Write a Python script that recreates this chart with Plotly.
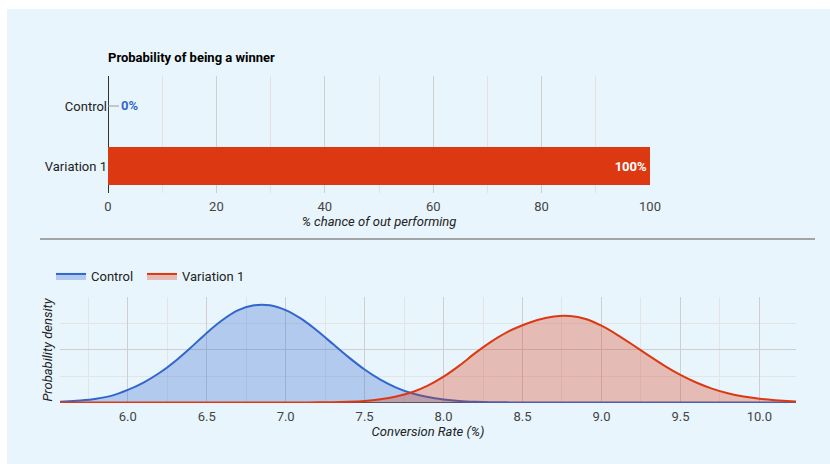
import plotly.graph_objects as go

W, H = 830, 464

# ---------------- data ----------------
variants = ["Control", "Variation 1"]
win_prob = [0, 100]
top_ticks = [0, 20, 40, 60, 80, 100]
top_minor = [10, 30, 50, 70, 90]

rate = [5.5, 5.6, 5.7, 5.8, 5.9, 6.0, 6.1, 6.2, 6.3, 6.4, 6.5, 6.6, 6.7, 6.8, 6.9,
        7.0, 7.1, 7.2, 7.3, 7.4, 7.5, 7.6, 7.7, 7.8, 7.9, 8.0, 8.1, 8.2, 8.3, 8.4,
        8.5, 8.6, 8.7, 8.8, 8.9, 9.0, 9.1, 9.2, 9.3, 9.4, 9.5, 9.6, 9.7, 9.8, 9.9,
        10.0, 10.1, 10.2, 10.3]
control_density = [0.005, 0.010, 0.020, 0.037, 0.066, 0.120, 0.190, 0.280, 0.392, 0.522,
                   0.660, 0.782, 0.875, 0.922, 0.922, 0.876, 0.792, 0.680, 0.554, 0.428,
                   0.313, 0.217, 0.142, 0.088, 0.052, 0.030, 0.016, 0.008, 0.004, 0.002,
                   0.001, 0.0, 0.0, 0.0, 0.0, 0.0, 0.0, 0.0, 0.0, 0.0,
                   0.0, 0.0, 0.0, 0.0, 0.0, 0.0, 0.0, 0.0, 0.0]
variation_density = [0.0, 0.0, 0.0, 0.0, 0.0, 0.0, 0.0, 0.0, 0.0, 0.0,
                     0.0, 0.0, 0.0, 0.0, 0.0, 0.0, 0.001, 0.002, 0.004, 0.008,
                     0.016, 0.032, 0.058, 0.098, 0.160, 0.245, 0.350, 0.468, 0.575, 0.665,
                     0.732, 0.785, 0.816, 0.820, 0.792, 0.728, 0.642, 0.545, 0.444, 0.348,
                     0.262, 0.190, 0.132, 0.088, 0.057, 0.036, 0.022, 0.013, 0.007]
bottom_ticks = [6.0, 6.5, 7.0, 7.5, 8.0, 8.5, 9.0, 9.5, 10.0]
bottom_tick_labels = ["6.0", "6.5", "7.0", "7.5", "8.0", "8.5", "9.0", "9.5", "10.0"]
bottom_minor = [5.75, 6.25, 6.75, 7.25, 7.75, 8.25, 8.75, 9.25, 9.75]
density_grid = [0, 0.5, 1.0]
density_minor = [0.25, 0.75]

BLUE = "#3366CC"
RED = "#DC3912"
PANEL = "#E8F5FC"
FONT = "Roboto"
FS = 13


def px_x(p):
    return p / W


def px_y(p):
    return 1 - p / H


fig = go.Figure()

# ---------------- top: probability of being a winner ----------------
fig.add_trace(go.Bar(
    x=win_prob, y=variants, orientation="h",
    marker=dict(color=[BLUE, RED], line=dict(width=0)),
    width=0.633,
    text=["" if v == 0 else f"{v:.0f}%" for v in win_prob],
    textposition="inside", insidetextanchor="end",
    textfont=dict(family=FONT, size=FS, color="white", weight="bold"),
    xaxis="x", yaxis="y", showlegend=False, hoverinfo="skip",
))

# annotation for zero-valued bar
for name, v in zip(variants, win_prob):
    if v == 0:
        fig.add_annotation(
            x=v, y=name, xref="x", yref="y", text=f"{v:.0f}%",
            showarrow=True, arrowhead=0, arrowwidth=1, arrowcolor="#999999",
            ax=21, ay=0, standoff=0,
            font=dict(family=FONT, size=FS, color=BLUE, weight="bold"),
        )

# ---------------- bottom: density curves ----------------
fig.add_trace(go.Scatter(
    x=rate, y=control_density, name="Control", mode="lines",
    line=dict(color=BLUE, width=2, shape="spline", smoothing=0.6),
    fill="tozeroy", fillcolor="rgba(51,102,204,0.3)",
    xaxis="x2", yaxis="y2", hoverinfo="skip", legend="legend",
))
fig.add_trace(go.Scatter(
    x=rate, y=variation_density, name="Variation 1", mode="lines",
    line=dict(color=RED, width=2, shape="spline", smoothing=0.6),
    fill="tozeroy", fillcolor="rgba(220,57,18,0.3)",
    xaxis="x2", yaxis="y2", hoverinfo="skip", legend="legend2",
))

tick_font = dict(family=FONT, size=FS, color="#444444")
title_font = dict(family=FONT, size=FS, color="#222222", style="italic")
legend_common = dict(
    orientation="h", xanchor="left", y=px_y(276), yanchor="middle",
    bgcolor="rgba(0,0,0,0)", font=dict(family=FONT, size=FS, color="#222222"),
    itemwidth=30,
)

fig.update_layout(
    width=W, height=H,
    margin=dict(l=0, r=0, t=0, b=0),
    paper_bgcolor="white", plot_bgcolor="rgba(0,0,0,0)",
    font=dict(family=FONT, size=FS, color="#222222"),
    title=dict(text="<b>Probability of being a winner</b>", x=px_x(108), xanchor="left",
               y=px_y(57), yanchor="middle", font=dict(family=FONT, size=FS, color="#000000")),
    bargap=0,
    xaxis=dict(
        domain=[px_x(108), px_x(650)], range=[0, 100],
        tickmode="array", tickvals=top_ticks, ticktext=[str(t) for t in top_ticks],
        showgrid=True, gridcolor="#cfcfcf", gridwidth=1,
        minor=dict(tickmode="array", tickvals=top_minor, showgrid=True, gridcolor="#e2e2e2"),
        zeroline=True, zerolinecolor="#333333", zerolinewidth=1,
        showline=False, ticks="", tickfont=tick_font, ticklabelstandoff=4,
        title=dict(text="% chance of out performing", font=title_font, standoff=1),
        automargin=False, fixedrange=True, anchor="y",
    ),
    yaxis=dict(
        domain=[px_y(193), px_y(76)], type="category",
        categoryorder="array", categoryarray=variants, range=[1.45, -0.5],
        showgrid=False, zeroline=False, showline=False, ticks="",
        tickfont=dict(family=FONT, size=FS, color="#222222"),
        automargin=False, fixedrange=True, anchor="x",
    ),
    xaxis2=dict(
        domain=[px_x(60), px_x(796)], range=[5.571, 10.232],
        tickmode="array", tickvals=bottom_ticks, ticktext=bottom_tick_labels,
        showgrid=True, gridcolor="#cfcfcf",
        minor=dict(tickmode="array", tickvals=bottom_minor, showgrid=True, gridcolor="#e4e4e4"),
        zeroline=False, showline=False, ticks="", tickfont=tick_font, ticklabelstandoff=4,
        title=dict(text="Conversion Rate (%)", font=title_font, standoff=1),
        automargin=False, fixedrange=True, anchor="y2",
    ),
    yaxis2=dict(
        domain=[px_y(403), px_y(297)], range=[-0.004, 1.0],
        tickmode="array", tickvals=density_grid, showticklabels=False,
        showgrid=True, gridcolor="#cfcfcf",
        minor=dict(tickmode="array", tickvals=density_minor, showgrid=True, gridcolor="#e4e4e4"),
        zeroline=True, zerolinecolor="#555555", zerolinewidth=1,
        showline=False, ticks="",
        title=dict(text="Probability density", font=title_font, standoff=3),
        automargin=False, fixedrange=True, anchor="x2",
    ),
    legend=dict(x=px_x(51), **legend_common),
    legend2=dict(x=px_x(142), **legend_common),
    shapes=[
        dict(type="rect", xref="paper", yref="paper", x0=px_x(7), x1=1, y0=0, y1=px_y(9),
             fillcolor=PANEL, line=dict(width=0), layer="below"),
        dict(type="line", xref="paper", yref="paper", x0=px_x(40), x1=px_x(815),
             y0=px_y(239), y1=px_y(239), line=dict(color="#8a8a8a", width=1.5)),
    ],
)

fig.write_html("out.html")
